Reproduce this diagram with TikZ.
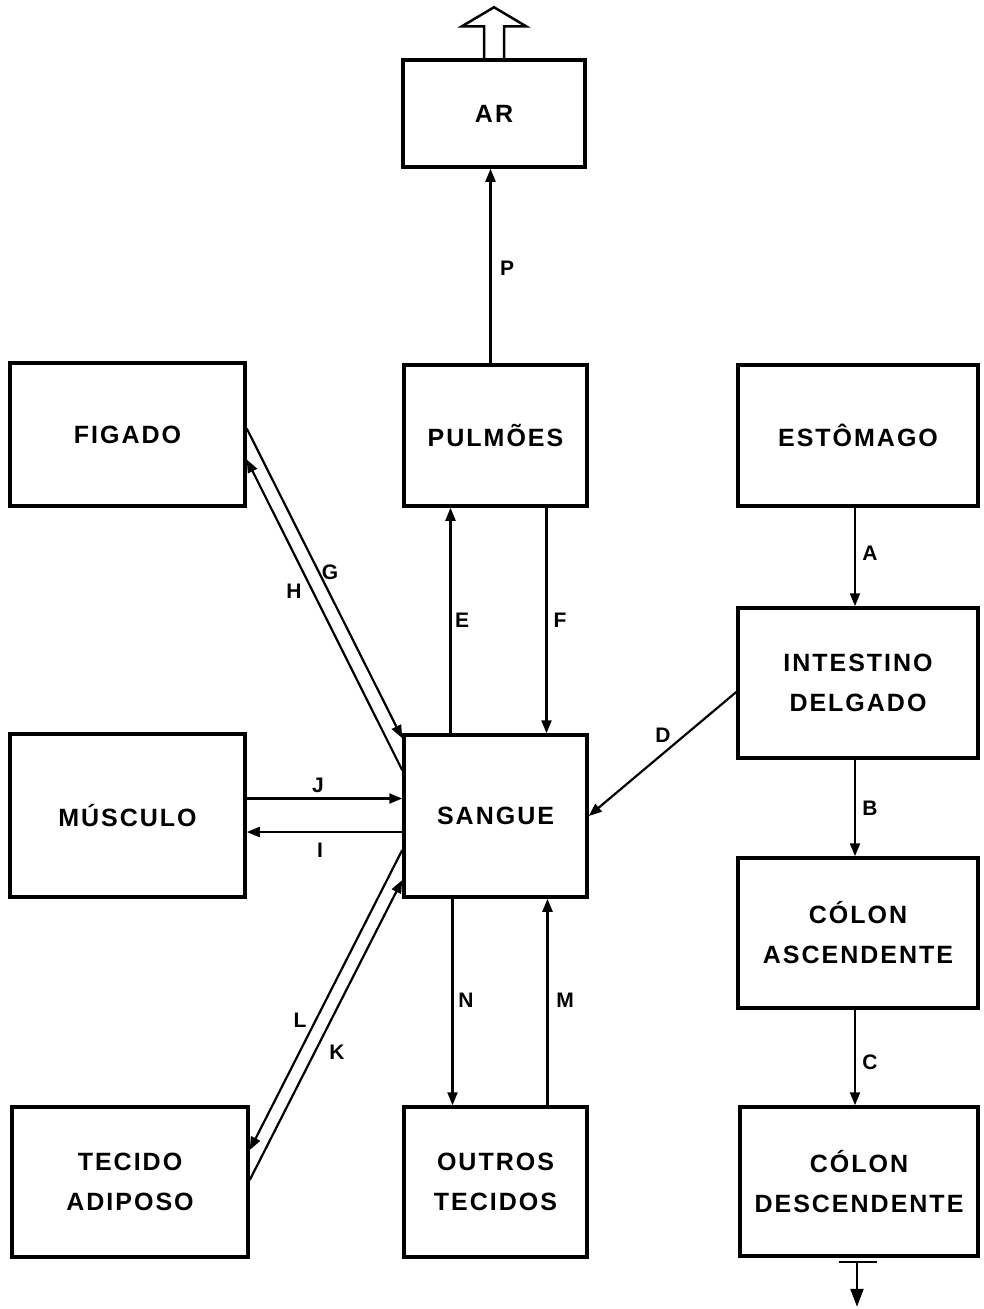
\documentclass[tikz,border=0pt]{standalone}
\usepackage{fontspec}
\setmainfont{Liberation Sans}
\newfontfamily\boxfont{Liberation Sans}[LetterSpace=8]
\usetikzlibrary{arrows.meta,calc}
\begin{document}
\begin{tikzpicture}[x=1pt,y=-1pt,
  box/.style={draw,line width=3.5pt,align=center,inner sep=0pt,
    font=\boxfont\bfseries\fontsize{25}{40}\selectfont},
  conn/.style={line width=2.2pt,-{Triangle[length=13pt,width=10pt]}},
  lbl/.style={font=\bfseries\fontsize{21}{21}\selectfont,inner sep=0pt}]
\useasboundingbox (0,0) rectangle (984,1309);
\node[box,minimum width=182pt,minimum height=107pt] (ar) at (494,113.5) {AR};
\node[box,minimum width=235pt,minimum height=143pt] (fig) at (127.5,434.5) {FIGADO};
\node[box,minimum width=183pt,minimum height=141pt] (pul) at (495.5,435.5) {PULMÕES};
\node[box,minimum width=240pt,minimum height=141pt] (est) at (858,435.5) {ESTÔMAGO};
\node[box,minimum width=240pt,minimum height=150pt] (int) at (858,683) {INTESTINO\\DELGADO};
\node[box,minimum width=235pt,minimum height=163pt] (mus) at (127.5,815.5) {MÚSCULO};
\node[box,minimum width=183pt,minimum height=162pt] (san) at (495.5,816) {SANGUE};
\node[box,minimum width=240pt,minimum height=150pt] (casc) at (858,933) {CÓLON\\ASCENDENTE};
\node[box,minimum width=236pt,minimum height=150pt] (adi) at (130,1182) {TECIDO\\ADIPOSO};
\node[box,minimum width=183pt,minimum height=150pt] (out) at (495.5,1182) {OUTROS\\TECIDOS};
\node[box,minimum width=238pt,minimum height=149pt] (cdes) at (859,1181.5) {CÓLON\\DESCENDENTE};
% hollow arrow above AR
\draw[line width=2.5pt,line join=miter]
  ($(ar.north)+(-10,0)$) -- ($(ar.north)+(-10,-32)$) -- ($(ar.north)+(-32,-32)$)
  -- ($(ar.north)+(0,-51)$) -- ($(ar.north)+(32,-32)$) -- ($(ar.north)+(10,-32)$)
  -- ($(ar.north)+(10,0)$);
% vertical connectors
\draw[conn] ([xshift=-5pt]pul.north) -- ([xshift=-5pt]pul.north |- ar.south);
\draw[conn] ([xshift=-45pt]san.north) -- ([xshift=-45pt]san.north |- pul.south);
\draw[conn] ([xshift=51pt]pul.south) -- ([xshift=51pt]pul.south |- san.north);
\draw[conn] ([xshift=-3pt]est.south) -- ([xshift=-3pt]est.south |- int.north);
\draw[conn] ([xshift=-3pt]int.south) -- ([xshift=-3pt]int.south |- casc.north);
\draw[conn] ([xshift=-3pt]casc.south) -- ([xshift=-3pt]casc.south |- cdes.north);
\draw[conn] ([xshift=-43pt]san.south) -- ([xshift=-43pt]san.south |- out.north);
\draw[conn] ([xshift=52pt]out.north) -- ([xshift=52pt]out.north |- san.south);
% diagonal and horizontal connectors
\draw[conn] ([yshift=-9pt]int.west) -- (san.east);
\draw[conn] ([yshift=6pt]fig.east) -- ([yshift=-5pt]san.north west);
\draw[conn] ([yshift=-37pt]san.north west) -- ([yshift=-25pt]fig.east);
\draw[conn] ([yshift=17pt]mus.east) -- ([yshift=17pt]mus.east -| san.west);
\draw[conn] ([yshift=-16pt]san.west) -- ([yshift=-16pt]san.west -| mus.east);
\draw[conn] ([yshift=2pt]adi.east) -- ([yshift=-64pt]san.west);
\draw[conn] ([yshift=-34pt]san.west) -- ([yshift=32pt]adi.east);
% exit arrow below
\coordinate (tb) at ([yshift=-4pt]cdes.south);
\coordinate (bend) at ($(tb)+(-2,45)$);
\draw[line width=2.2pt] ($(tb)+(-20,0)$) -- ($(tb)+(18,0)$);
\draw[line width=2.2pt,-{Triangle[length=18pt,width=13pt]}] ($(tb)+(-2,0)$) -- (bend);
% labels
\node[lbl] (lP) at (507,268) {P};
\node[lbl] (lE) at (462,620) {E};
\node[lbl] (lF) at (560,620) {F};
\node[lbl] (lA) at (870,553) {A};
\node[lbl] (lB) at (870,808) {B};
\node[lbl] (lC) at (870,1062) {C};
\node[lbl] (lD) at (663,735) {D};
\node[lbl] (lG) at (330,572) {G};
\node[lbl] (lH) at (294,591) {H};
\node[lbl] (lJ) at (318,785) {J};
\node[lbl] (lI) at (320,850) {I};
\node[lbl] (lK) at (337,1052) {K};
\node[lbl] (lL) at (300,1020) {L};
\node[lbl] (lN) at (466,1000) {N};
\node[lbl] (lM) at (565,1000) {M};
\end{tikzpicture}
\end{document}
